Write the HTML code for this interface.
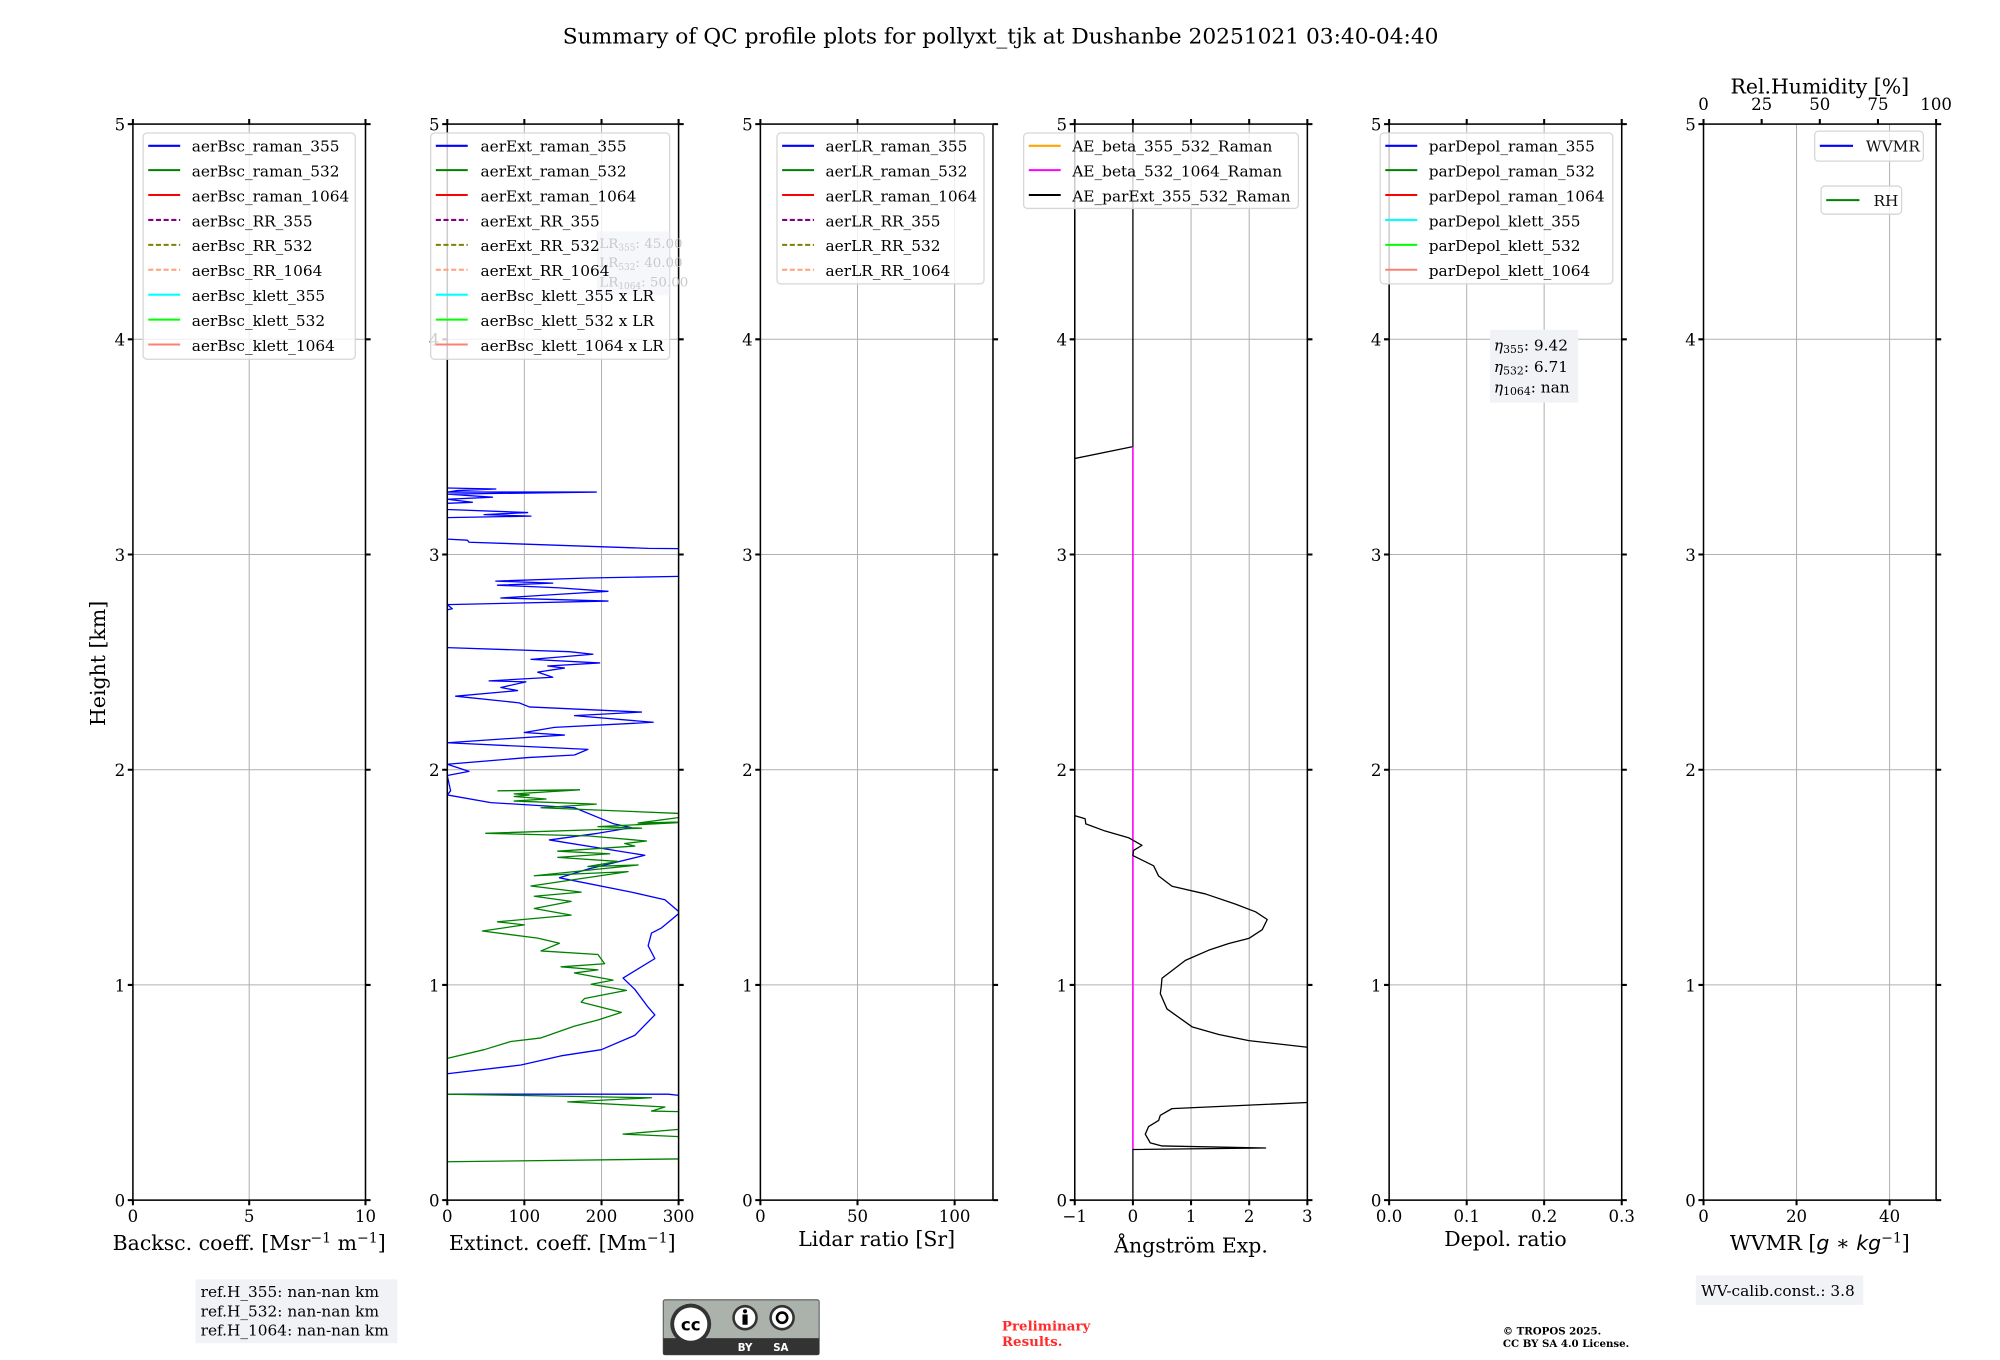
<!DOCTYPE html>
<html><head><meta charset="utf-8"><style>
html,body{margin:0;padding:0;background:#fff;}
svg{display:block;}
text{font-family:"DejaVu Serif","Liberation Serif",serif;fill:#000;}
.tk{font-size:13px;}
.lg{font-size:12px;fill:#111;}
.al{font-size:16px;}
.ax{fill:none;stroke:#000;stroke-width:1.2;}
.gr{stroke:#b0b0b0;stroke-width:0.8;}
.t{stroke:#000;stroke-width:1.6;}
.lb{fill:#fff;fill-opacity:0.8;stroke:#d6d6d6;stroke-width:1;}
.c{fill:none;stroke-width:1.3;vector-effect:non-scaling-stroke;stroke-linejoin:round;}
</style></head><body>
<svg width="2000" height="1360" viewBox="0 0 1565 1064" xmlns="http://www.w3.org/2000/svg">
<defs>
<clipPath id="cp2"><rect x="350" y="97" width="181" height="842"/></clipPath>
<clipPath id="cp4"><rect x="841" y="97" width="182" height="842"/></clipPath>
</defs>
<text x="783" y="34" text-anchor="middle" style="font-size:17px">Summary of QC profile plots for pollyxt_tjk at Dushanbe 20251021 03:40-04:40</text>
<text transform="translate(82,519) rotate(-90)" text-anchor="middle" class="al">Height [km]</text>

<g class="gr">
<line x1="104" y1="770.6" x2="286" y2="770.6"/><line x1="104" y1="602.2" x2="286" y2="602.2"/><line x1="104" y1="433.8" x2="286" y2="433.8"/><line x1="104" y1="265.4" x2="286" y2="265.4"/>
<line x1="195" y1="97" x2="195" y2="939"/>
<line x1="350" y1="770.6" x2="531" y2="770.6"/><line x1="350" y1="602.2" x2="531" y2="602.2"/><line x1="350" y1="433.8" x2="531" y2="433.8"/><line x1="350" y1="265.4" x2="531" y2="265.4"/>
<line x1="410.3" y1="97" x2="410.3" y2="939"/><line x1="470.7" y1="97" x2="470.7" y2="939"/>
<line x1="595" y1="770.6" x2="777" y2="770.6"/><line x1="595" y1="602.2" x2="777" y2="602.2"/><line x1="595" y1="433.8" x2="777" y2="433.8"/><line x1="595" y1="265.4" x2="777" y2="265.4"/>
<line x1="671" y1="97" x2="671" y2="939"/><line x1="747" y1="97" x2="747" y2="939"/>
<line x1="841" y1="770.6" x2="1023" y2="770.6"/><line x1="841" y1="602.2" x2="1023" y2="602.2"/><line x1="841" y1="433.8" x2="1023" y2="433.8"/><line x1="841" y1="265.4" x2="1023" y2="265.4"/>
<line x1="932" y1="97" x2="932" y2="939"/><line x1="977.5" y1="97" x2="977.5" y2="939"/>
<line x1="1087" y1="770.6" x2="1269" y2="770.6"/><line x1="1087" y1="602.2" x2="1269" y2="602.2"/><line x1="1087" y1="433.8" x2="1269" y2="433.8"/><line x1="1087" y1="265.4" x2="1269" y2="265.4"/>
<line x1="1147.7" y1="97" x2="1147.7" y2="939"/><line x1="1208.3" y1="97" x2="1208.3" y2="939"/>
<line x1="1333" y1="770.6" x2="1515" y2="770.6"/><line x1="1333" y1="602.2" x2="1515" y2="602.2"/><line x1="1333" y1="433.8" x2="1515" y2="433.8"/><line x1="1333" y1="265.4" x2="1515" y2="265.4"/>
<line x1="1405.8" y1="97" x2="1405.8" y2="939"/><line x1="1478.6" y1="97" x2="1478.6" y2="939"/>
</g>

<g clip-path="url(#cp2)">
<g transform="matrix(0.262 0 0 0.4003 313.3 313.7)">
<polyline class="c" stroke="#0000ff" points="140,170 285,172 170,175 140,178 585,178 140,182 275,188 140,192 215,198 140,200 140,212 380,218 250,222 390,225 140,228 140,270 200,272 205,276 740,288 900,289"/>
<polyline class="c" stroke="#0000ff" points="900,342 560,346 285,352 455,356 290,360 470,365 620,372 470,378 300,385 620,391 140,398 155,406 140,408"/>
<polyline class="c" stroke="#0000ff" points="140,482 505,490 575,495 390,505 595,512 440,518 490,522 410,530 455,540 265,547 375,549 300,560 350,566 165,577 355,590 385,598 720,608 520,615 755,628 460,638 370,648 490,653 320,660 140,668 560,681 520,692 380,697 140,710 205,724 140,732 150,762 140,770 270,785 520,795 635,826 690,834 590,845 445,858 730,888 560,915 475,932 690,960 790,975 835,1000 780,1030 750,1040 740,1065 760,1090 710,1110 665,1128 700,1150 740,1185 760,1200 700,1240 600,1268 480,1280 360,1298 140,1315"/>
<polyline class="c" stroke="#0000ff" points="140,1355 800,1355 900,1362"/>
<polyline class="c" stroke="#008000" points="290,762 535,760 340,768 385,770 340,773 435,778 340,782 585,788 420,795 900,808 710,825 900,822 590,832 720,835 255,845 560,850 735,860 670,865 700,870 470,880 625,885 470,892 650,900 560,910 710,907 400,928 680,920 390,948 540,960 400,968 510,978 400,992 510,1005 290,1018 370,1024 245,1036 410,1050 475,1060 420,1075 590,1082 610,1100 480,1106 590,1112 520,1118 635,1132 570,1140 675,1152 550,1168 540,1175 660,1195 590,1210 520,1222 420,1245 330,1252 250,1268 140,1285"/>
<polyline class="c" stroke="#008000" points="140,1355 750,1362 500,1370 790,1380 750,1388 900,1390"/>
<polyline class="c" stroke="#008000" points="900,1420 665,1433 900,1440"/>
<polyline class="c" stroke="#008000" points="140,1487 900,1481"/>
</g></g>

<g clip-path="url(#cp4)">
<g transform="matrix(0.2615 0 0 0.4 830.8 329.4)">
<polyline class="c" stroke="#000" points="213,-600 213,50 -50,85"/>
<polyline class="c" stroke="#ff00ff" style="stroke-width:1.6" points="213,50 213,1425"/>
<polyline class="c" stroke="#000" points="-50,770 40,772 70,778 72,788 130,802 200,815 240,830 215,840 213,850 275,870 290,890 330,910 430,925 520,945 580,960 615,975 600,995 560,1012 500,1022 440,1035 370,1055 330,1075 300,1090 298,1105 295,1120 315,1150 390,1185 470,1200 560,1212 736,1225 800,1226"/>
<polyline class="c" stroke="#000" points="800,1333 736,1333 330,1345 295,1358 290,1368 260,1380 250,1395 265,1412 300,1418 610,1422 213,1425 213,1530"/>
</g></g>

<g class="ax">
<rect x="104" y="97" width="182" height="842"/>
<rect x="350" y="97" width="181" height="842"/>
<rect x="595" y="97" width="182" height="842"/>
<rect x="841" y="97" width="182" height="842"/>
<rect x="1087" y="97" width="182" height="842"/>
<rect x="1333" y="97" width="182" height="842"/>
</g>

<g class="t">
<path d="M100 939H104M100 770.6H104M100 602.2H104M100 433.8H104M100 265.4H104M100 97H104
M286 939H290M286 770.6H290M286 602.2H290M286 433.8H290M286 265.4H290M286 97H290
M346 939H350M346 770.6H350M346 602.2H350M346 433.8H350M346 265.4H350M346 97H350
M531 939H535M531 770.6H535M531 602.2H535M531 433.8H535M531 265.4H535M531 97H535
M591 939H595M591 770.6H595M591 602.2H595M591 433.8H595M591 265.4H595M591 97H595
M777 939H781M777 770.6H781M777 602.2H781M777 433.8H781M777 265.4H781M777 97H781
M837 939H841M837 770.6H841M837 602.2H841M837 433.8H841M837 265.4H841M837 97H841
M1023 939H1027M1023 770.6H1027M1023 602.2H1027M1023 433.8H1027M1023 265.4H1027M1023 97H1027
M1083 939H1087M1083 770.6H1087M1083 602.2H1087M1083 433.8H1087M1083 265.4H1087M1083 97H1087
M1269 939H1273M1269 770.6H1273M1269 602.2H1273M1269 433.8H1273M1269 265.4H1273M1269 97H1273
M1329 939H1333M1329 770.6H1333M1329 602.2H1333M1329 433.8H1333M1329 265.4H1333M1329 97H1333
M1515 939H1519M1515 770.6H1519M1515 602.2H1519M1515 433.8H1519M1515 265.4H1519M1515 97H1519"/>
<path d="M104 939V943M195 939V943M286 939V943M104 97V93M195 97V93M286 97V93
M350 939V943M410.3 939V943M470.7 939V943M531 939V943M350 97V93M410.3 97V93M470.7 97V93M531 97V93
M595 939V943M671 939V943M747 939V943M595 97V93M671 97V93M747 97V93
M841 939V943M886.5 939V943M932 939V943M977.5 939V943M1023 939V943M841 97V93M886.5 97V93M932 97V93M977.5 97V93M1023 97V93
M1087 939V943M1147.7 939V943M1208.3 939V943M1269 939V943M1087 97V93M1147.7 97V93M1208.3 97V93M1269 97V93
M1333 939V943M1405.8 939V943M1478.6 939V943M1333 97V93M1378.5 97V93M1424 97V93M1469.5 97V93M1515 97V93"/>
</g>

<g class="tk" text-anchor="end">
<text x="98" y="944">0</text><text x="98" y="775.6">1</text><text x="98" y="607.2">2</text><text x="98" y="438.8">3</text><text x="98" y="270.4">4</text><text x="98" y="102">5</text>
<text x="344" y="944">0</text><text x="344" y="775.6">1</text><text x="344" y="607.2">2</text><text x="344" y="438.8">3</text><text x="344" y="270.4">4</text><text x="344" y="102">5</text>
<text x="589" y="944">0</text><text x="589" y="775.6">1</text><text x="589" y="607.2">2</text><text x="589" y="438.8">3</text><text x="589" y="270.4">4</text><text x="589" y="102">5</text>
<text x="835" y="944">0</text><text x="835" y="775.6">1</text><text x="835" y="607.2">2</text><text x="835" y="438.8">3</text><text x="835" y="270.4">4</text><text x="835" y="102">5</text>
<text x="1081" y="944">0</text><text x="1081" y="775.6">1</text><text x="1081" y="607.2">2</text><text x="1081" y="438.8">3</text><text x="1081" y="270.4">4</text><text x="1081" y="102">5</text>
<text x="1327" y="944">0</text><text x="1327" y="775.6">1</text><text x="1327" y="607.2">2</text><text x="1327" y="438.8">3</text><text x="1327" y="270.4">4</text><text x="1327" y="102">5</text>
</g>
<g class="tk" text-anchor="middle">
<text x="104" y="956">0</text><text x="195" y="956">5</text><text x="286" y="956">10</text>
<text x="350" y="956">0</text><text x="410.3" y="956">100</text><text x="470.7" y="956">200</text><text x="531" y="956">300</text>
<text x="595" y="956">0</text><text x="671" y="956">50</text><text x="747" y="956">100</text>
<text x="841" y="956">−1</text><text x="886.5" y="956">0</text><text x="932" y="956">1</text><text x="977.5" y="956">2</text><text x="1023" y="956">3</text>
<text x="1087" y="956">0.0</text><text x="1147.7" y="956">0.1</text><text x="1208.3" y="956">0.2</text><text x="1269" y="956">0.3</text>
<text x="1333" y="956">0</text><text x="1405.8" y="956">20</text><text x="1478.6" y="956">40</text>
<text x="1333" y="86">0</text><text x="1378.5" y="86">25</text><text x="1424" y="86">50</text><text x="1469.5" y="86">75</text><text x="1515" y="86">100</text>
</g>
<text x="1424" y="73" text-anchor="middle" class="al">Rel.Humidity [%]</text>

<g class="al" text-anchor="middle">
<text x="195" y="978">Backsc. coeff. [Msr<tspan dy="-6" style="font-size:11px">−1</tspan><tspan dy="6"> m</tspan><tspan dy="-6" style="font-size:11px">−1</tspan><tspan dy="6">]</tspan></text>
<text x="440" y="978">Extinct. coeff. [Mm<tspan dy="-6" style="font-size:11px">−1</tspan><tspan dy="6">]</tspan></text>
<text x="686" y="975">Lidar ratio [Sr]</text>
<text x="932" y="980">Ångström Exp.</text>
<text x="1178" y="975">Depol. ratio</text>
<text x="1424" y="978">WVMR [<tspan font-style="italic" style="font-family:'DejaVu Sans',sans-serif">g</tspan> ∗ <tspan font-style="italic" style="font-family:'DejaVu Sans',sans-serif">kg</tspan><tspan dy="-6" style="font-size:11px">−1</tspan><tspan dy="6">]</tspan></text>
</g>

<g>
<rect class="lb" x="112" y="104" width="166" height="177" rx="3"/>
<g stroke-width="1.6">
<line x1="116" x2="141" y1="114" y2="114" stroke="#0000ff"/>
<line x1="116" x2="141" y1="133" y2="133" stroke="#008000"/>
<line x1="116" x2="141" y1="152.5" y2="152.5" stroke="#ff0000"/>
<line x1="116" x2="141" y1="172" y2="172" stroke="#800080" stroke-dasharray="4,2"/>
<line x1="116" x2="141" y1="191.5" y2="191.5" stroke="#808000" stroke-dasharray="4,2"/>
<line x1="116" x2="141" y1="211" y2="211" stroke="#ffa07a" stroke-dasharray="4,2"/>
<line x1="116" x2="141" y1="230.5" y2="230.5" stroke="#00ffff"/>
<line x1="116" x2="141" y1="250" y2="250" stroke="#00ff00"/>
<line x1="116" x2="141" y1="269.5" y2="269.5" stroke="#fa8072"/>
</g>
<g class="lg">
<text x="150" y="118.5">aerBsc_raman_355</text><text x="150" y="138">aerBsc_raman_532</text><text x="150" y="157.5">aerBsc_raman_1064</text><text x="150" y="177">aerBsc_RR_355</text><text x="150" y="196.5">aerBsc_RR_532</text><text x="150" y="216">aerBsc_RR_1064</text><text x="150" y="235.5">aerBsc_klett_355</text><text x="150" y="255">aerBsc_klett_532</text><text x="150" y="274.5">aerBsc_klett_1064</text>
</g>

<rect class="lb" x="337" y="104" width="187" height="177" rx="3"/>
<g stroke-width="1.6">
<line x1="341" x2="366" y1="114" y2="114" stroke="#0000ff"/>
<line x1="341" x2="366" y1="133" y2="133" stroke="#008000"/>
<line x1="341" x2="366" y1="152.5" y2="152.5" stroke="#ff0000"/>
<line x1="341" x2="366" y1="172" y2="172" stroke="#800080" stroke-dasharray="4,2"/>
<line x1="341" x2="366" y1="191.5" y2="191.5" stroke="#808000" stroke-dasharray="4,2"/>
<line x1="341" x2="366" y1="211" y2="211" stroke="#ffa07a" stroke-dasharray="4,2"/>
<line x1="341" x2="366" y1="230.5" y2="230.5" stroke="#00ffff"/>
<line x1="341" x2="366" y1="250" y2="250" stroke="#00ff00"/>
<line x1="341" x2="366" y1="269.5" y2="269.5" stroke="#fa8072"/>
</g>
<rect x="467" y="181" width="57" height="50" fill="#f0f2f8" fill-opacity="0.6"/>
<g style="font-size:10.5px;fill:#c8c8c8">
<text x="469" y="194" style="fill:#c8c8c8">LR<tspan style="font-size:7px" dy="2">355</tspan><tspan dy="-2">: 45.00</tspan></text>
<text x="469" y="209" style="fill:#c8c8c8">LR<tspan style="font-size:7px" dy="2">532</tspan><tspan dy="-2">: 40.00</tspan></text>
<text x="469" y="224" style="fill:#c8c8c8">LR<tspan style="font-size:7px" dy="2">1064</tspan><tspan dy="-2">: 50.00</tspan></text>
</g>
<g class="lg">
<text x="376" y="118.5">aerExt_raman_355</text><text x="376" y="138">aerExt_raman_532</text><text x="376" y="157.5">aerExt_raman_1064</text><text x="376" y="177">aerExt_RR_355</text><text x="376" y="196.5">aerExt_RR_532</text><text x="376" y="216">aerExt_RR_1064</text><text x="376" y="235.5">aerBsc_klett_355 x LR</text><text x="376" y="255">aerBsc_klett_532 x LR</text><text x="376" y="274.5">aerBsc_klett_1064 x LR</text>
</g>

<rect class="lb" x="608" y="104" width="162" height="118" rx="3"/>
<g stroke-width="1.6">
<line x1="612" x2="637" y1="114" y2="114" stroke="#0000ff"/>
<line x1="612" x2="637" y1="133" y2="133" stroke="#008000"/>
<line x1="612" x2="637" y1="152.5" y2="152.5" stroke="#ff0000"/>
<line x1="612" x2="637" y1="172" y2="172" stroke="#800080" stroke-dasharray="4,2"/>
<line x1="612" x2="637" y1="191.5" y2="191.5" stroke="#808000" stroke-dasharray="4,2"/>
<line x1="612" x2="637" y1="211" y2="211" stroke="#ffa07a" stroke-dasharray="4,2"/>
</g>
<g class="lg">
<text x="646" y="118.5">aerLR_raman_355</text><text x="646" y="138">aerLR_raman_532</text><text x="646" y="157.5">aerLR_raman_1064</text><text x="646" y="177">aerLR_RR_355</text><text x="646" y="196.5">aerLR_RR_532</text><text x="646" y="216">aerLR_RR_1064</text>
</g>

<rect class="lb" x="801" y="104" width="215" height="59" rx="3"/>
<g stroke-width="1.6">
<line x1="805" x2="830" y1="114" y2="114" stroke="#ffa500"/>
<line x1="805" x2="830" y1="133" y2="133" stroke="#ff00ff"/>
<line x1="805" x2="830" y1="152.5" y2="152.5" stroke="#000"/>
</g>
<g class="lg">
<text x="839" y="118.5">AE_beta_355_532_Raman</text><text x="839" y="138">AE_beta_532_1064_Raman</text><text x="839" y="157.5">AE_parExt_355_532_Raman</text>
</g>

<rect class="lb" x="1080" y="104" width="182" height="118" rx="3"/>
<g stroke-width="1.6">
<line x1="1084" x2="1109" y1="114" y2="114" stroke="#0000ff"/>
<line x1="1084" x2="1109" y1="133" y2="133" stroke="#008000"/>
<line x1="1084" x2="1109" y1="152.5" y2="152.5" stroke="#ff0000"/>
<line x1="1084" x2="1109" y1="172" y2="172" stroke="#00ffff"/>
<line x1="1084" x2="1109" y1="191.5" y2="191.5" stroke="#00ff00"/>
<line x1="1084" x2="1109" y1="211" y2="211" stroke="#fa8072"/>
</g>
<g class="lg">
<text x="1118" y="118.5">parDepol_raman_355</text><text x="1118" y="138">parDepol_raman_532</text><text x="1118" y="157.5">parDepol_raman_1064</text><text x="1118" y="177">parDepol_klett_355</text><text x="1118" y="196.5">parDepol_klett_532</text><text x="1118" y="216">parDepol_klett_1064</text>
</g>
<rect x="1166" y="258" width="69" height="57" fill="#f0f2f6"/>
<g style="font-size:12px">
<text x="1169" y="274"><tspan font-style="italic">η</tspan><tspan style="font-size:8.5px" dy="2">355</tspan><tspan dy="-2">: 9.42</tspan></text>
<text x="1169" y="291"><tspan font-style="italic">η</tspan><tspan style="font-size:8.5px" dy="2">532</tspan><tspan dy="-2">: 6.71</tspan></text>
<text x="1169" y="307"><tspan font-style="italic">η</tspan><tspan style="font-size:8.5px" dy="2">1064</tspan><tspan dy="-2">: nan</tspan></text>
</g>

<rect class="lb" x="1420" y="102.5" width="85" height="23.5" rx="3"/>
<line x1="1424" x2="1450" y1="114" y2="114" stroke="#0000ff" stroke-width="1.6"/>
<text class="lg" x="1460" y="118.5">WVMR</text>
<rect class="lb" x="1425" y="145.5" width="63" height="22" rx="3"/>
<line x1="1429" x2="1455" y1="156.5" y2="156.5" stroke="#008000" stroke-width="1.6"/>
<text class="lg" x="1466" y="161">RH</text>
</g>

<rect x="153" y="1001" width="158" height="50" fill="#f0f2f6"/>
<g style="font-size:12px">
<text x="157" y="1015">ref.H_355: nan-nan km</text>
<text x="157" y="1030">ref.H_532: nan-nan km</text>
<text x="157" y="1045">ref.H_1064: nan-nan km</text>
</g>
<rect x="1327" y="998" width="131" height="23" fill="#f0f2f6"/>
<text x="1331" y="1014" style="font-size:12px">WV-calib.const.: 3.8</text>

<g>
<rect x="519" y="1017" width="122" height="43" rx="1.5" fill="#aab2ab" stroke="#555" stroke-width="0.8"/>
<rect x="519" y="1047" width="122" height="13" fill="#333"/>
<circle cx="540.5" cy="1036" r="16" fill="#333"/>
<circle cx="540.5" cy="1036" r="13" fill="#fff"/>
<text x="540.5" y="1041" text-anchor="middle" style="font-family:'DejaVu Sans',sans-serif;font-size:13px;font-weight:bold">cc</text>
<circle cx="583" cy="1031" r="10" fill="#333"/><circle cx="583" cy="1031" r="8" fill="#fff"/>
<circle cx="583" cy="1026" r="1.6" fill="#000"/><rect x="581" y="1028.5" width="4" height="8" fill="#000"/>
<circle cx="612" cy="1031" r="10" fill="#333"/><circle cx="612" cy="1031" r="8" fill="#fff"/>
<circle cx="612" cy="1031" r="4" fill="none" stroke="#000" stroke-width="2"/>
<text x="583" y="1057" text-anchor="middle" style="font-family:'DejaVu Sans',sans-serif;font-size:8px;font-weight:bold;fill:#fff">BY</text>
<text x="611" y="1057" text-anchor="middle" style="font-family:'DejaVu Sans',sans-serif;font-size:8px;font-weight:bold;fill:#fff">SA</text>
</g>
<g style="font-size:10.5px;font-weight:bold">
<text x="784" y="1041" style="fill:#ff2a2a">Preliminary</text>
<text x="784" y="1053" style="fill:#ff2a2a">Results.</text>
</g>
<g style="font-size:8px;font-weight:bold">
<text x="1176" y="1044">© TROPOS 2025.</text>
<text x="1176" y="1054">CC BY SA 4.0 License.</text>
</g>
</svg>
</body></html>
